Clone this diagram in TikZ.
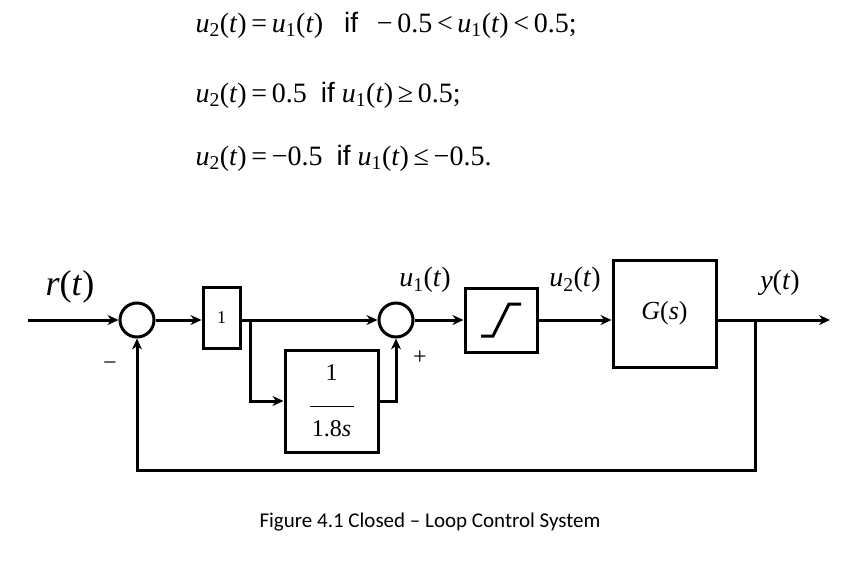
\documentclass[tikz,border=0pt]{standalone}
\usepackage{fontspec}
\setmainfont{Liberation Serif}
\newfontfamily\capfont{Carlito}
\newfontfamily\ssf{Liberation Sans}
\usetikzlibrary{arrows.meta}
\newcommand{\uu}[1]{\textit{u}\textsubscript{#1}(\textit{t})}
\newcommand{\rl}[1]{\,#1\,}
\begin{document}
\begin{tikzpicture}[x=1pt,y=-1pt,
  ln/.style={line width=3pt},
  ar/.style={ln,-{Stealth[length=11pt,width=10pt]}},
  sum/.style={draw,circle,line width=3pt,minimum size=34pt,inner sep=0pt},
  lab/.style={font=\fontsize{28}{32}\selectfont}]
\useasboundingbox (0,0) rectangle (860,565);
% equations
\node[lab,anchor=west] (e1) at (192,25) {\uu{2}\rl{=}\uu{1}\ \ \ {\ssf if}\ \ \rl{−}0.5\rl{<}\uu{1}\rl{<}0.5;};
\node[lab,anchor=west] (e2) at (192,95) {\uu{2}\rl{=}0.5\ \ {\ssf if}\ \uu{1}\rl{≥}0.5;};
\node[lab,anchor=west] (e3) at (192,158) {\uu{2}\rl{=}−0.5\ \ {\ssf if}\ \uu{1}\rl{≤}−0.5.};
% blocks
\node[sum] (s1) at (137,320) {};
\node[draw,line width=3pt,minimum width=37pt,minimum height=61pt,inner sep=0pt,font=\fontsize{18}{20}\selectfont] (k) at (221.5,317.5) {1};
\node[sum] (s2) at (396,320) {};
\node[draw,line width=3pt,minimum width=93pt,minimum height=102pt,inner sep=0pt,font=\fontsize{24}{28}\selectfont,align=center] (i) at (331.5,401) {1\\[-2pt]\rule{44pt}{1pt}\\[2pt]1.8\textit{s}};
\node[draw,line width=3pt,minimum width=72pt,minimum height=64pt,inner sep=0pt] (sat) at (501,320) {};
\draw[line width=3pt] ([shift={(-20,16)}]sat.center) -- ([shift={(-8,16)}]sat.center) -- ([shift={(8,-16)}]sat.center) -- ([shift={(20,-16)}]sat.center);
\node[draw,line width=3pt,minimum width=103pt,minimum height=107pt,inner sep=0pt,font=\fontsize{26}{30}\selectfont] (g) at (664.5,313.5) {\textit{G}(\textit{s})};
% labels
\node[font=\fontsize{36}{40}\selectfont] (r) at (70,287) {\textit{r}(\textit{t})};
\node[lab] (u1) at (425,280) {\uu{1}};
\node[lab] (u2) at (575,280) {\uu{2}};
\node[lab] (y) at (780,283) {\textit{y}(\textit{t})};
\node[font=\fontsize{24}{26}\selectfont] (p) at (420,358) {+};
\node[font=\fontsize{24}{26}\selectfont] (m) at (110,366) {−};
\node[font=\capfont\fontsize{21}{24}\selectfont] (cap) at (430,522) {Figure 4.1 Closed – Loop Control System};
% connectors
\coordinate (in) at (28,320);
\draw[ar] (in) -- (s1.west);
\draw[ar] (s1.east) -- (k.west|-s1.east);
\draw[ar] (k.east|-s2) -- (s2.west);
\coordinate (br) at (250,320);
\draw[ar] (br) |- (i.west);
\draw[ar] (i.east) -| (s2.south);
\draw[ar] (s2.east) -- (sat.west);
\draw[ar] (sat.east) -- (g.west|-sat.east);
\coordinate (out) at (830,320);
\draw[ar] (g.east|-out) -- (out);
\coordinate (fb) at (755,320);
\draw[ar] (fb) -- (755,470) -| (s1.south);
\end{tikzpicture}
\end{document}
